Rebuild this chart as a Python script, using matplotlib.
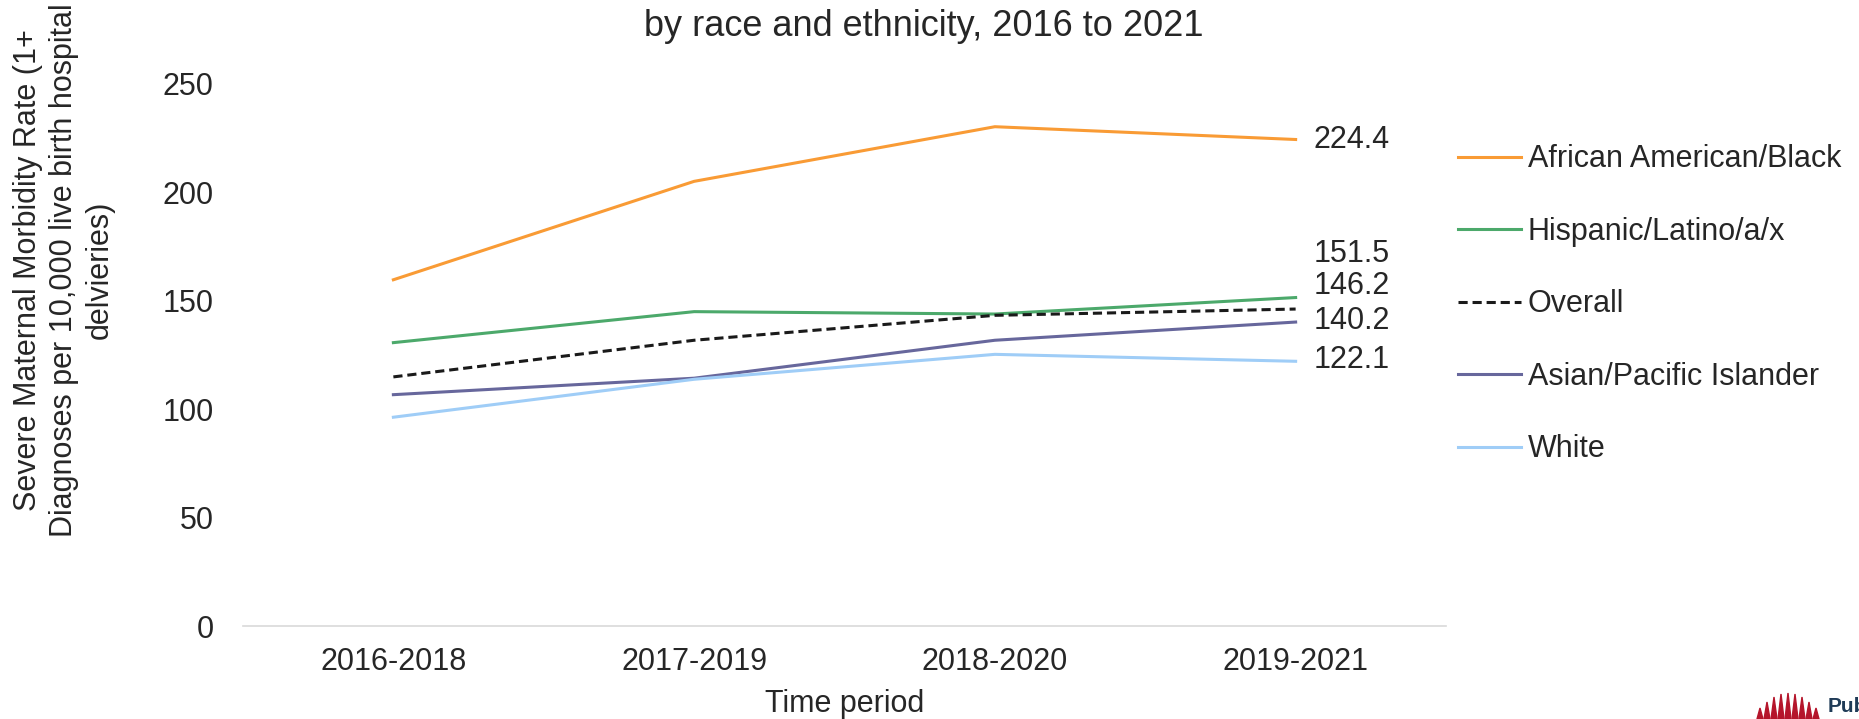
import matplotlib.pyplot as plt
from matplotlib.patches import Polygon

plt.rcParams['font.family'] = ['Liberation Sans', 'DejaVu Sans']

# Data.
periods = ['2016-2018', '2017-2019', '2018-2020', '2019-2021']
black = [159.7, 205.1, 230.3, 224.4]
hispanic = [130.7, 145.0, 143.9, 151.5]
overall = [114.9, 131.8, 143.3, 146.2]
asian = [106.7, 114.3, 131.8, 140.2]
white = [96.3, 113.8, 125.3, 122.1]

names = ['African American/Black', 'Hispanic/Latino/a/x', 'Overall',
         'Asian/Pacific Islander', 'White']
series = [black, hispanic, overall, asian, white]
colors = ['#F99B35', '#4CA96B', '#1A1A1A', '#67679C', '#9FCDF7']
styles = ['-', '-', '--', '-', '-']

# Where the end labels sit (manually nudged, like the original).
label_y = [224.4, 171.8, 157.0, 140.6, 122.5]

txt = '#262626'
fs = 22
W, H = 1859, 719
fig = plt.figure(figsize=(W / 100, H / 100), dpi=100)
ax = fig.add_axes([243 / W, 1 - 626 / H, 1203 / W, 542 / H])

x = list(range(len(periods)))
for vals, name, c, ls in zip(series, names, colors, styles):
    if ls == '--':
        ax.plot(x, vals, color=c, linestyle=ls, linewidth=2.2, label=name,
                dashes=(3, 1.6))
    else:
        ax.plot(x, vals, color=c, linewidth=2.2, label=name)

for i in range(len(series)):
    ax.annotate('%.1f' % series[i][-1], xy=(x[-1], label_y[i]),
                xytext=(13, 0), textcoords='offset points',
                ha='left', va='center', fontsize=fs, color=txt)

ax.set_xlim(-0.5, len(periods) - 0.5)
ax.set_ylim(0, 250)
ax.set_yticks([0, 50, 100, 150, 200, 250])
ax.set_xticks(x)
ax.set_xticklabels(periods)
ax.tick_params(axis='both', length=0, labelsize=fs, labelcolor=txt)
ax.tick_params(axis='y', pad=21)
ax.tick_params(axis='x', pad=15)
for s in ['top', 'right', 'left']:
    ax.spines[s].set_visible(False)
ax.spines['bottom'].set_color('#D9D9D9')
ax.spines['bottom'].set_linewidth(1.2)

ax.set_xlabel('Time period', fontsize=fs, color=txt, labelpad=9)

fig.text(64 / W, 1 - 270 / H,
         'Severe Maternal Morbidity Rate (1+\nDiagnoses per 10,000 live birth hospital\ndelvieries)',
         rotation=90, ha='center', va='center', multialignment='center',
         fontsize=fs, color=txt, linespacing=1.25)

fig.text(0.497, 1 - 26 / H, 'by race and ethnicity, 2016 to 2021',
         ha='center', va='center', fontsize=26, color=txt)

leg = ax.legend(loc='upper left', bbox_to_anchor=(0.992, 0.928), frameon=False,
                fontsize=fs, handlelength=2.06, handletextpad=0.23,
                labelspacing=1.39, borderaxespad=0.3)
for t in leg.get_texts():
    t.set_color(txt)

# Corner logo, cut off by the edge like in the original.
spikes = [(1760, 708), (1767, 702), (1774, 697), (1781, 694), (1788, 693),
          (1795, 694), (1802, 697), (1809, 702), (1816, 708)]
for sx, top in spikes:
    poly = Polygon([((sx - 3) / W, 0), (sx / W, 1 - top / H), ((sx + 3) / W, 0)],
                   closed=True, transform=fig.transFigure, color='#B5152B')
    fig.add_artist(poly)
fig.text(1828 / W, 1 - 707 / H, 'Pub', fontsize=15, fontweight='bold',
         color='#1F3B57', ha='left', va='center')

fig.savefig('out.png', dpi=100)
